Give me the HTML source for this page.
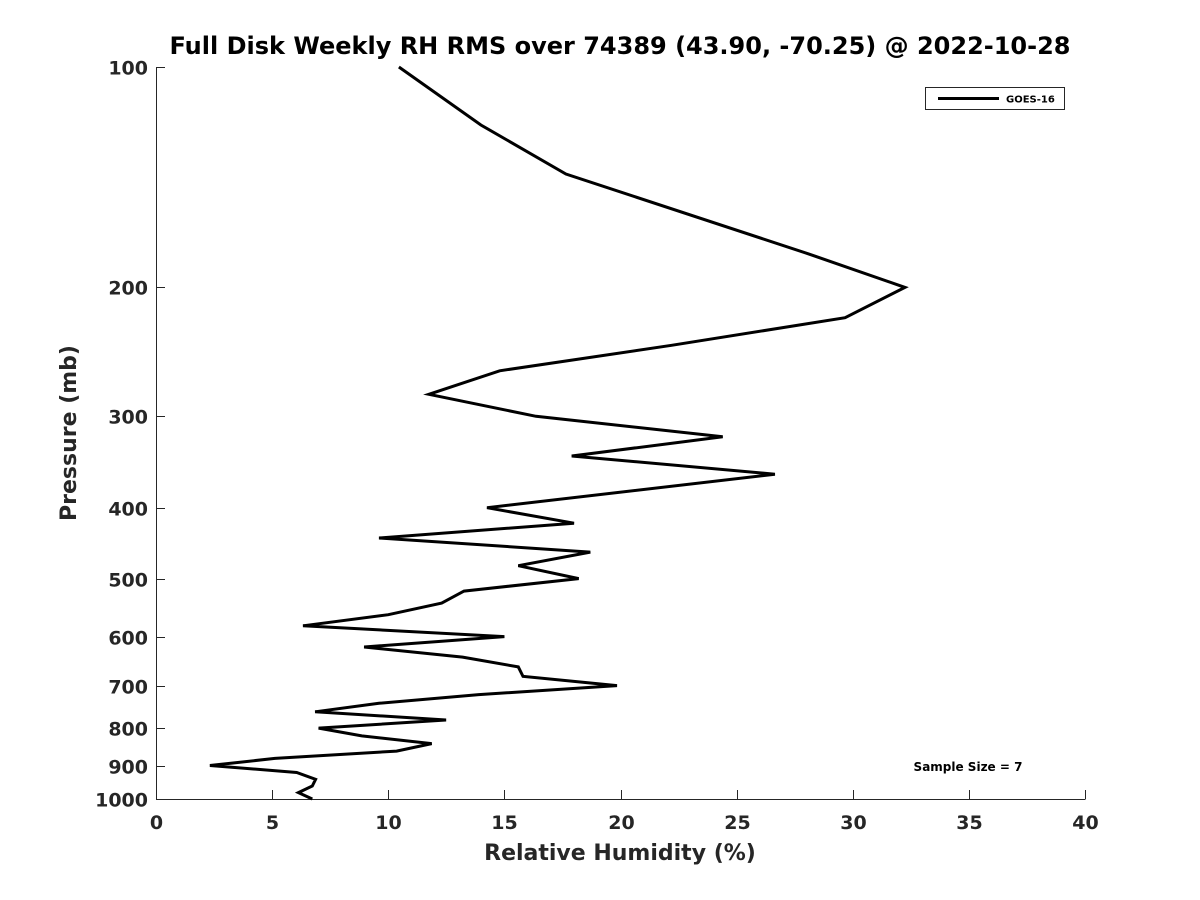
<!DOCTYPE html>
<html><head><meta charset="utf-8"><style>
html,body{margin:0;padding:0;background:#fff;}
svg{display:block;font-family:"DejaVu Sans","Liberation Sans",sans-serif;font-weight:bold;}
</style></head><body>
<svg id="chart" width="1200" height="900" xmlns="http://www.w3.org/2000/svg">
<text x="620" y="54" text-anchor="middle" font-size="24" fill="#000">Full Disk Weekly RH RMS over 74389 (43.90, -70.25) @ 2022-10-28</text>
<g id="axes"></g>
<g id="series"></g>
<text x="620" y="860" text-anchor="middle" font-size="22" fill="#262626">Relative Humidity (%)</text>
<text transform="translate(76,433) rotate(-90)" text-anchor="middle" font-size="22" fill="#262626">Pressure (mb)</text>
<g>
<rect x="925.5" y="87.5" width="139" height="22" fill="#fff" stroke="#262626" stroke-width="1"/>
<line x1="938" y1="98.5" x2="999" y2="98.5" stroke="#000" stroke-width="3"/>
<text x="1006" y="102.5" font-size="10" fill="#000">GOES-16</text>
</g>
<text x="968" y="771" text-anchor="middle" font-size="12" fill="#000">Sample Size = 7</text>
</svg>
<script>
const pressures = [100,120,140,180,200,220,240,260,280,300,320,340,360,400,420,440,460,480,500,520,540,560,580,600,620,640,660,680,700,720,740,760,780,800,820,840,860,880,900,920,940,960,980,1000];
const rhValues = [10.46,13.99,17.65,28.1,32.25,29.67,22.2,14.8,11.75,16.36,24.4,17.9,26.65,14.25,18.0,9.6,18.7,15.6,18.2,13.26,12.3,10.0,6.33,15.0,8.96,13.2,15.6,15.8,19.85,13.9,9.6,6.85,12.49,7.0,8.86,11.87,10.36,5.12,2.32,6.06,6.87,6.73,6.13,6.73];
const xTicks = [0,5,10,15,20,25,30,35,40];
const yTicks = [100,200,300,400,500,600,700,800,900,1000];

const X0=156,X1=1085,Y0=67,Y1=799;
const xs = v => X0 + (X1-X0)*v/40;
const ys = p => Y0 + (Y1-Y0)*Math.log10(p/100);
const NS="http://www.w3.org/2000/svg";
const axes=document.getElementById('axes');
function mk(tag,attrs,parent){const e=document.createElementNS(NS,tag);for(const k in attrs)e.setAttribute(k,attrs[k]);parent.appendChild(e);return e;}

const xl=mk('line',{x1:X0,y1:Y1+0.5,x2:X1+0.5,y2:Y1+0.5,stroke:'#262626','stroke-width':1},axes);


const yl=mk('line',{x1:X0+0.5,y1:Y0,x2:X0+0.5,y2:Y1+0.5,stroke:'#262626','stroke-width':1},axes);



xTicks.forEach(t=>{
  const x=Math.round(xs(t))+0.5;
  const tk=mk('line',{x1:x,y1:Y1,x2:x,y2:Y1-9,stroke:'#262626','stroke-width':1},axes);
  
  
  const lb=mk('text',{x:x,y:Y1+30,'text-anchor':'middle','font-size':19,fill:'#262626'},axes);
  
  
  lb.textContent=t;
});
yTicks.forEach(t=>{
  const y=Math.round(ys(t))+0.5;
  const tk=mk('line',{x1:X0,y1:y,x2:X0+9,y2:y,stroke:'#262626','stroke-width':1},axes);
  
  
  const lb=mk('text',{x:X0-8,y:y+7,'text-anchor':'end','font-size':19,fill:'#262626'},axes);
  
  
  lb.textContent=t;
});

const pts=pressures.map((p,i)=>xs(rhValues[i]).toFixed(1)+','+ys(p).toFixed(1)).join(' ');
const line=mk('polyline',{points:pts,fill:'none',stroke:'#000','stroke-width':3,'stroke-linejoin':'miter','stroke-miterlimit':4},document.getElementById('series'));


</script>
</body></html>
